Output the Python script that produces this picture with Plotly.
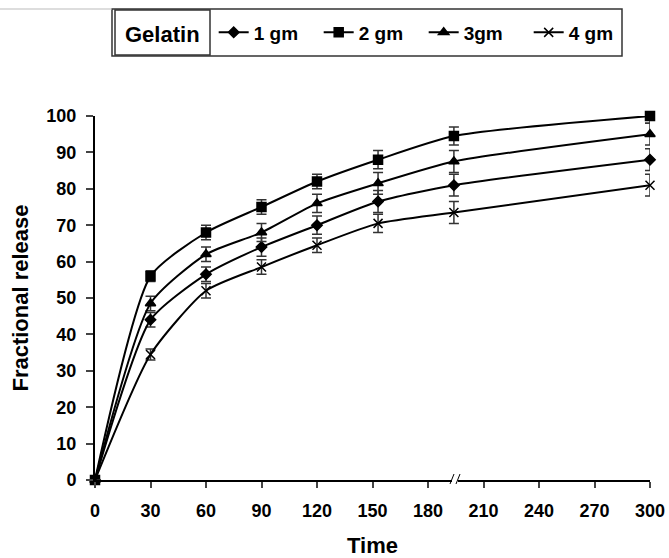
import plotly.graph_objects as go

time = [0, 30, 60, 90, 120, 153, 194, 300]
g1 = [0, 44, 56.5, 64, 70, 76.5, 81, 88]
g2 = [0, 56, 68, 75, 82, 88, 94.5, 100]
g3 = [0, 48.5, 62, 68, 76, 81.5, 87.5, 95]
g4 = [0, 34.5, 52, 58.5, 64.5, 70.5, 73.5, 81]
err1 = [0, 2, 2, 2.5, 2.5, 3, 3, 3]
err2 = [0, 1.5, 2, 2, 2, 2.5, 2.5, 2]
err3 = [0, 2, 2, 2.5, 2.5, 3, 3, 3]
err4 = [0, 1.5, 2, 2, 2, 2.5, 3, 3]
names = ["1 gm", "2 gm", "3gm", "4 gm"]
symbols = ["diamond", "square", "triangle-up", "x-thin-open"]
xticks = [0, 30, 60, 90, 120, 150, 180, 210, 240, 270, 300]

fig = go.Figure()
for ys, er, nm, sym in zip([g1, g2, g3, g4], [err1, err2, err3, err4], names, symbols):
    fig.add_trace(go.Scatter(
        x=time, y=ys, name=nm, mode="lines+markers",
        line=dict(color="black", width=2, shape="spline", smoothing=0.6),
        marker=dict(symbol=sym, size=9 if sym != "diamond" else 8, color="black",
                    line=dict(color="black", width=1.5)),
        error_y=dict(type="data", array=er, visible=True, color="#333333",
                     thickness=1.5, width=5),
        cliponaxis=False,
    ))

L, R, T, B = 95, 650, 116, 480
W, H = R - L, B - T
def px(x): return (x - L) / W
def py(y): return (B - y) / H

fig.update_layout(
    width=669, height=558,
    margin=dict(l=L, r=669 - R, t=T, b=558 - B, autoexpand=False),
    paper_bgcolor="white", plot_bgcolor="white",
    font=dict(family="Liberation Sans, Arial", color="black"),
    showlegend=True,
    legend=dict(
        orientation="h", x=px(123), y=py(33), xanchor="left", yanchor="middle",
        borderwidth=0, bgcolor="rgba(0,0,0,0)",
        font=dict(size=19, family="Liberation Sans, Arial", weight="bold"),
        title=dict(text="Gelatin ", font=dict(size=22, weight="bold")),
        itemwidth=30, tracegroupgap=0, entrywidth=60,
    ),
    xaxis=dict(
        range=[0, 300], tickvals=xticks, ticks="outside", ticklen=6, tickwidth=1.5,
        showline=True, linecolor="black", linewidth=2, showgrid=False, zeroline=False,
        tickfont=dict(size=18, weight="bold"), ticklabelstandoff=7,
        ticklabeloverflow="allow", automargin=False,
        title=dict(text="Time", font=dict(size=22, weight="bold"), standoff=21),
    ),
    yaxis=dict(
        range=[0, 100], dtick=10, ticks="outside", ticklen=7, tickwidth=1.5,
        showline=True, linecolor="black", linewidth=2, showgrid=False, zeroline=False,
        tickfont=dict(size=18, weight="bold"), ticklabelstandoff=6, automargin=False,
        title=dict(text="Fractional release", font=dict(size=22, weight="bold"), standoff=12),
    ),
    shapes=[
        dict(type="rect", xref="paper", yref="paper", x0=px(112), x1=px(622),
             y0=py(56), y1=py(9), line=dict(color="#333333", width=1.5)),
        dict(type="rect", xref="paper", yref="paper", x0=px(115), x1=px(210),
             y0=py(55), y1=py(10), line=dict(color="#333333", width=1.5)),
        dict(type="line", xref="paper", yref="paper", x0=px(0), x1=px(112),
             y0=py(9), y1=py(9), line=dict(color="#bbbbbb", width=1)),
        dict(type="rect", xref="paper", yref="paper", x0=px(452), x1=px(458),
             y0=py(485), y1=py(475), fillcolor="white", line=dict(width=0), layer="above"),
        dict(type="line", xref="paper", yref="paper", x0=px(450), x1=px(454),
             y0=py(484), y1=py(474), line=dict(color="black", width=1)),
        dict(type="line", xref="paper", yref="paper", x0=px(456), x1=px(460),
             y0=py(484), y1=py(474), line=dict(color="black", width=1)),
    ],
)

fig.write_html("out.html", config={"displayModeBar": False},
               post_script="document.body.style.margin='0';")
